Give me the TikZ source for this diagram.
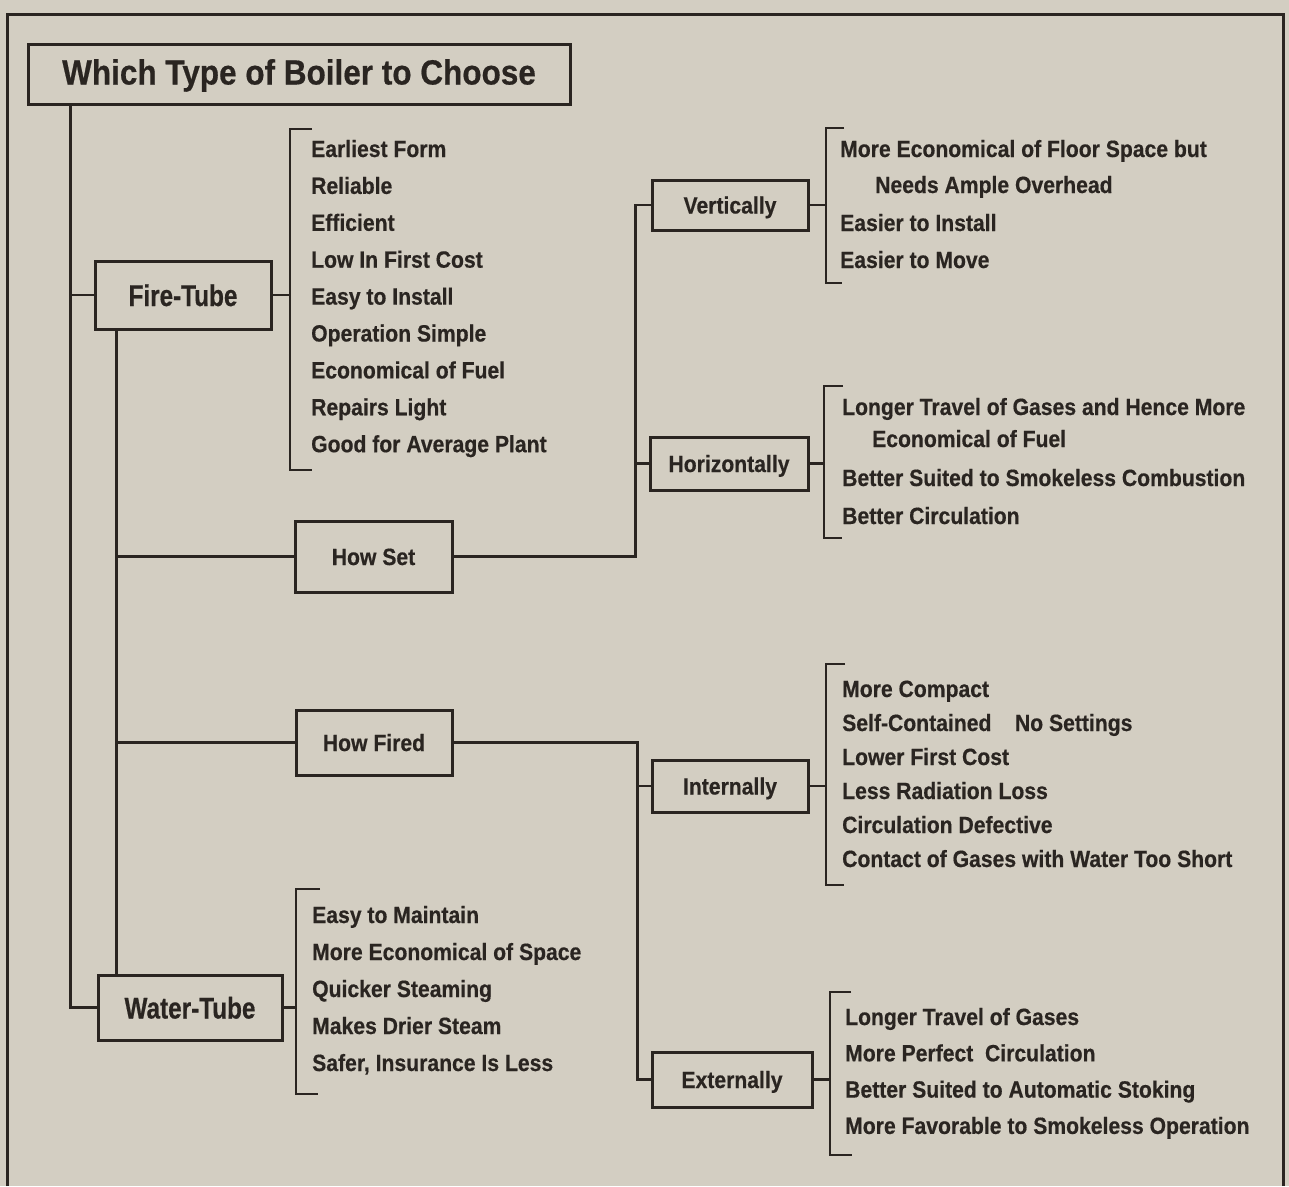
\documentclass[tikz,border=0pt]{standalone}
\usepackage{fontspec}
\setmainfont{Liberation Sans}
\newfontfamily\titlefont{Liberation Sans}[FakeStretch=0.9,FakeBold=0.5]
\newfontfamily\boxfont{Liberation Sans}[FakeStretch=0.81,FakeBold=0.5]
\newfontfamily\itemfont{Liberation Sans}[FakeStretch=0.9,FakeBold=0.5]
\definecolor{paper}{HTML}{D3CEC2}
\definecolor{ink}{HTML}{2A2521}
\tikzset{
  boxline/.style={draw=ink,line width=3pt,text=ink},
  titlebox/.style={boxline,minimum width=542pt,minimum height=60pt,text height=24pt,text depth=3pt,
    font=\titlefont\bfseries\fontsize{35}{40}\selectfont},
  mainbox/.style={boxline,text height=25pt,text depth=3pt,font=\boxfont\bfseries\fontsize{30}{34}\selectfont},
  subbox/.style={boxline,text height=20pt,text depth=3pt,font=\itemfont\bfseries\fontsize{23.5}{28}\selectfont},
  entry/.style={anchor=base west,inner sep=0pt,text=ink,font=\itemfont\bfseries\fontsize{23.5}{28}\selectfont},
  link/.style={draw=ink,line width=2.8pt},
}
\begin{document}
\begin{tikzpicture}[x=1pt,y=-1pt]
\fill[paper] (0,0) rectangle (1289,1186);
\useasboundingbox (0,0) rectangle (1289,1186);
% outer frame
\draw[link,line width=3pt] (7,1186) |- (1283,14) -- (1283,1186);

% boxes
\node[titlebox] (title) at (299,74) {Which Type of Boiler to Choose};
\node[mainbox,minimum width=176pt,minimum height=68pt] (fire) at (183,295) {Fire-Tube};
\node[mainbox,minimum width=184pt,minimum height=65pt] (water) at (190,1007.5) {Water-Tube};
\node[subbox,minimum width=157pt,minimum height=71pt] (set) at (373.5,556.5) {How Set};
\node[subbox,minimum width=156pt,minimum height=65pt] (fired) at (374,742.5) {How Fired};
\node[subbox,minimum width=156pt,minimum height=50pt] (vert) at (730,205) {Vertically};
\node[subbox,minimum width=158pt,minimum height=53pt] (horiz) at (729,463.5) {Horizontally};
\node[subbox,minimum width=156pt,minimum height=52pt] (int) at (730,786) {Internally};
\node[subbox,minimum width=160pt,minimum height=55pt] (ext) at (732,1079.5) {Externally};

% trunks
\coordinate (trunk) at ([xshift=44pt]title.south west);
\draw[link] (trunk) |- (water.west);
\draw[link] (trunk |- fire.west) -- (fire.west);
\coordinate (spine) at ([xshift=23pt]fire.south west);
\draw[link] (spine) -- (spine |- water.north);
\draw[link] (spine |- set.west) -- (set.west);
\draw[link] (spine |- fired.west) -- (fired.west);

% forks
\coordinate (setfork) at ([xshift=182pt]set.east);
\draw[link] (set.east) -| (setfork |- vert.west) -- (vert.west);
\draw[link] (setfork |- horiz.west) -- (horiz.west);
\coordinate (firedfork) at ([xshift=184pt]fired.east);
\draw[link] (fired.east) -| (firedfork |- ext.west) -- (ext.west);
\draw[link] (firedfork |- int.west) -- (int.west);

% brackets
\coordinate (fireb) at (290,295);
\draw[link] (fire.east) -- (fireb);
\draw[link] (312,129) -- (290,129) -- (290,470) -- (312,470);
\coordinate (waterb) at (296,1007.5);
\draw[link] (water.east) -- (waterb);
\draw[link] (320,889) -- (296,889) -- (296,1094) -- (318,1094);
\coordinate (vertb) at (826,205);
\draw[link] (vert.east) -- (vertb);
\draw[link] (844,128) -- (826,128) -- (826,283) -- (842,283);
\coordinate (horizb) at (824,463.5);
\draw[link] (horiz.east) -- (horizb);
\draw[link] (843,386) -- (824,386) -- (824,538) -- (842,538);
\coordinate (intb) at (826,786);
\draw[link] (int.east) -- (intb);
\draw[link] (845,664) -- (826,664) -- (826,885) -- (844,885);
\coordinate (extb) at (830,1079.5);
\draw[link] (ext.east) -- (extb);
\draw[link] (851,992) -- (830,992) -- (830,1155) -- (852,1155);

% Fire-Tube list
\foreach \t [count=\i from 0] in {Earliest Form, Reliable, Efficient, Low In First Cost,
  Easy to Install, Operation Simple, Economical of Fuel, Repairs Light, Good for Average Plant}
  \node[entry] (fire\i) at (311,{157+36.9*\i}) {\t};
% Water-Tube list
\foreach \t [count=\i from 0] in {Easy to Maintain, More Economical of Space, Quicker Steaming,
  Makes Drier Steam, {Safer, Insurance Is Less}}
  \node[entry] (water\i) at (312,{923+37*\i}) {\t};
% Vertically list
\node[entry] (vert1) at (840,157) {More Economical of Floor Space but};
\node[entry] (vert2) at (875,193) {Needs Ample Overhead};
\node[entry] (vert3) at (840,231) {Easier to Install};
\node[entry] (vert4) at (840,268) {Easier to Move};
% Horizontally list
\node[entry] (horiz1) at (842,415) {Longer Travel of Gases and Hence More};
\node[entry] (horiz2) at (872,447) {Economical of Fuel};
\node[entry] (horiz3) at (842,486) {Better Suited to Smokeless Combustion};
\node[entry] (horiz4) at (842,524) {Better Circulation};
% Internally list
\foreach \t [count=\i from 0] in {More Compact, Self-Contained\quad No Settings, Lower First Cost,
  Less Radiation Loss, Circulation Defective, Contact of Gases with Water Too Short}
  \node[entry] (int\i) at (842,{697+34*\i}) {\t};
% Externally list
\foreach \t [count=\i from 0] in {Longer Travel of Gases, More Perfect\enspace Circulation,
  Better Suited to Automatic Stoking, More Favorable to Smokeless Operation}
  \node[entry] (ext\i) at (845,{1025+36.3*\i}) {\t};
\end{tikzpicture}
\end{document}
